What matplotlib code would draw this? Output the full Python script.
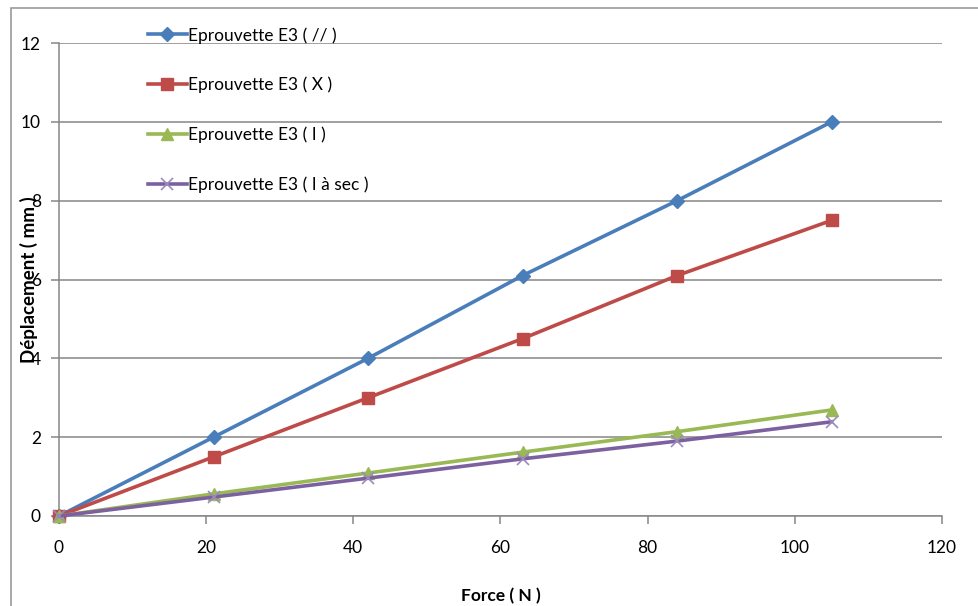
import matplotlib.pyplot as plt
from matplotlib.patches import Rectangle

force = [0, 21, 42, 63, 84, 105]
depl_para = [0, 2, 4, 6.1, 8, 10]
depl_x = [0, 1.5, 3, 4.5, 6.1, 7.5]
depl_i = [0, 0.56, 1.09, 1.62, 2.14, 2.69]
depl_i_sec = [0, 0.48, 0.96, 1.45, 1.9, 2.39]

labels = ["Eprouvette E3 ( // )", "Eprouvette E3 ( X )",
          "Eprouvette E3 ( I )", "Eprouvette E3 ( I à sec )"]

plt.rcParams['font.family'] = ['Lato', 'DejaVu Sans']

W, H = 979, 606
fig = plt.figure(figsize=(W / 100, H / 100), dpi=100)
ax = fig.add_axes([59 / W, 1 - 516 / H, 883 / W, 473 / H])

# chart frame (left and top edges visible)
fig.patches.append(Rectangle((11 / W, -0.1), 1.2, 1 - 8 / H + 0.1,
                             transform=fig.transFigure, fill=False,
                             edgecolor='#9a9a9a', linewidth=1.2))

lw = 2.6
ax.plot(force, depl_para, color='#4A7EBB', lw=lw, marker='D', ms=7,
        label=labels[0], clip_on=False, zorder=3)
ax.plot(force, depl_x, color='#BE4B48', lw=lw, marker='s', ms=8,
        label=labels[1], clip_on=False, zorder=3)
ax.plot(force, depl_i, color='#98B954', lw=lw, marker='^', ms=8,
        label=labels[2], clip_on=False, zorder=3)
ax.plot(force, depl_i_sec, color='#7D60A0', lw=lw, marker='x', ms=9,
        mew=1.2, markeredgecolor='#9b8bbd', label=labels[3],
        clip_on=False, zorder=3)

ax.set_xlim(0, 120)
ax.set_ylim(0, 12)
ax.set_xticks(range(0, 121, 20))
ax.set_yticks(range(0, 13, 2))
ax.grid(axis='y', color='#868686', lw=1.1)
ax.set_axisbelow(True)
for s in ['top', 'right']:
    ax.spines[s].set_visible(False)
for s in ['left', 'bottom']:
    ax.spines[s].set_color('#868686')
    ax.spines[s].set_linewidth(1.1)
ax.tick_params(axis='both', colors='#868686', labelcolor='black',
               labelsize=12.5, length=6, width=1.1)
ax.tick_params(axis='x', pad=11)
ax.tick_params(axis='y', pad=7)

ax.set_xlabel("Force ( N )", fontsize=12.5, fontweight='bold')
ax.xaxis.set_label_coords(0.5006, -0.152)
ax.set_ylabel("Déplacement ( mm )", fontsize=13.5, fontweight='bold')
ax.yaxis.set_label_coords(-0.024, 0.499)

fig.legend(loc='upper left', bbox_to_anchor=(148 / W, 1 - 27 / H),
           frameon=False, fontsize=12.5, handlelength=2.24, handletextpad=0.05,
           labelspacing=1.91, borderpad=0, borderaxespad=0)

fig.savefig("out.png", dpi=100)
